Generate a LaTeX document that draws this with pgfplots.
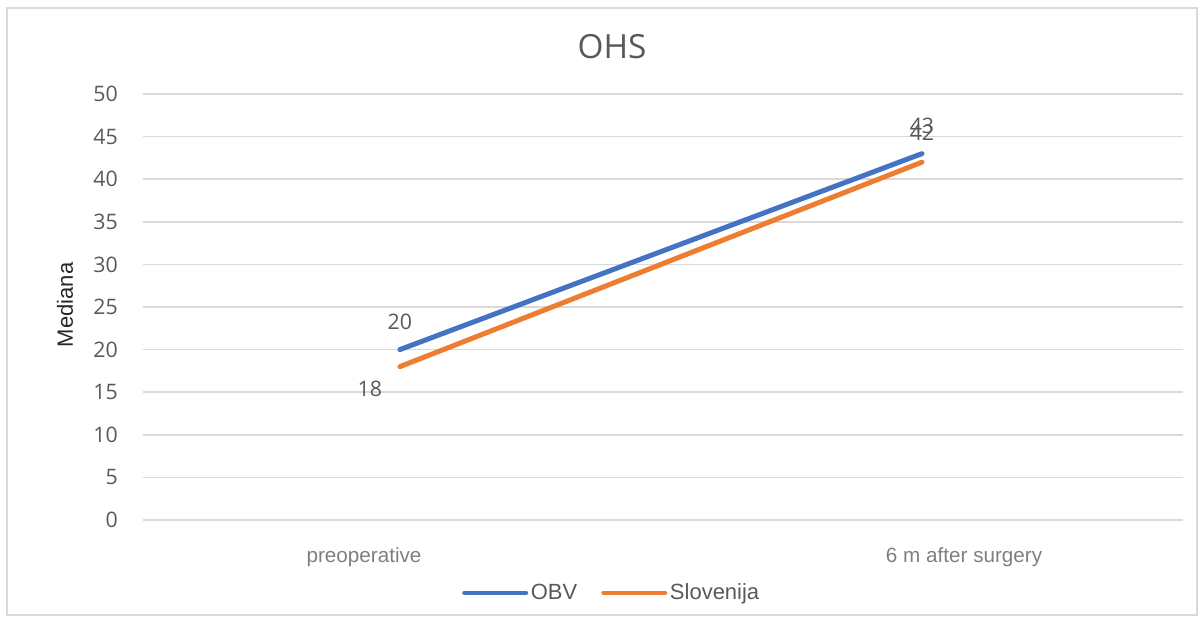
\documentclass[border=0pt]{standalone}
\usepackage{pgfplots}
\pgfplotsset{compat=1.18}
\usepackage{fontspec}
\setmainfont{Open Sans}
\newfontfamily\arialf{Liberation Sans}
\definecolor{obv}{HTML}{4472C4}
\definecolor{slo}{HTML}{ED7D31}
\definecolor{gridc}{HTML}{D9D9D9}
\definecolor{txt}{HTML}{595959}
\definecolor{cat}{HTML}{7F7F7F}
\begin{document}
\begin{tikzpicture}[x=0.75pt,y=0.75pt]
\useasboundingbox (0,0) rectangle (1204,622);
\draw[gridc, line width=1.5pt] (7,7) rectangle (1197,614);
\node[txt, font=\fontsize{25}{28}\selectfont, inner sep=0] at (612,575) {OHS};
\begin{axis}[
  at={(107.25pt,76.5pt)}, anchor=south west,
  scale only axis, width=780pt, height=319.5pt,
  xmin=0, xmax=2, ymin=0, ymax=50,
  ytick={0,5,...,50},
  xtick={0.425,1.579},
  xticklabels={preoperative, 6 m after surgery},
  /pgf/number format/assume math mode=true,
  axis line style={draw=none},
  major tick length=0pt,
  ymajorgrids,
  grid style={gridc, line width=1.2pt},
  yticklabel style={font=\fontsize{16}{18}\selectfont, text=txt, anchor=east, inner sep=0pt, xshift=-18.75pt},
  xticklabel style={font=\arialf\fontsize{15.5}{17}\selectfont, text=cat, anchor=center, inner sep=0pt, yshift=-27.75pt},
  ylabel={Mediana},
  ylabel style={at={(axis description cs:-0.075,0.505)}, anchor=center, font=\arialf\fontsize{16.5}{18}\selectfont, text=black!85},
  legend style={at={(axis description cs:0.451,-0.171)}, anchor=center, draw=none, fill=none,
    font=\arialf\fontsize{16.5}{18}\selectfont, text=txt, legend columns=2,
    /tikz/every even column/.append style={column sep=16pt}},
  legend image code/.code={\draw[#1, line width=3.5pt, line cap=round] (0pt,0pt) -- (46pt,0pt);},
  every node near coord/.append style={font=\fontsize{16}{18}\selectfont, text=txt, anchor=center, inner sep=0pt},
]
\addplot[obv, line width=3.75pt, line cap=round, nodes near coords,
  every node near coord/.append style={yshift=21pt}] coordinates {(0.494,20) (1.498,43)};
\addlegendentry{OBV}
\addplot[slo, line width=3.75pt, line cap=round] coordinates {(0.494,18) (1.498,42)};
\addlegendentry{Slovenija}
\addplot[draw=none, forget plot, nodes near coords,
  every node near coord/.append style={xshift=-22.5pt, yshift=-16.5pt}] coordinates {(0.494,18)};
\addplot[draw=none, forget plot, nodes near coords,
  every node near coord/.append style={yshift=21.75pt}] coordinates {(1.498,42)};
\end{axis}
\end{tikzpicture}
\end{document}
